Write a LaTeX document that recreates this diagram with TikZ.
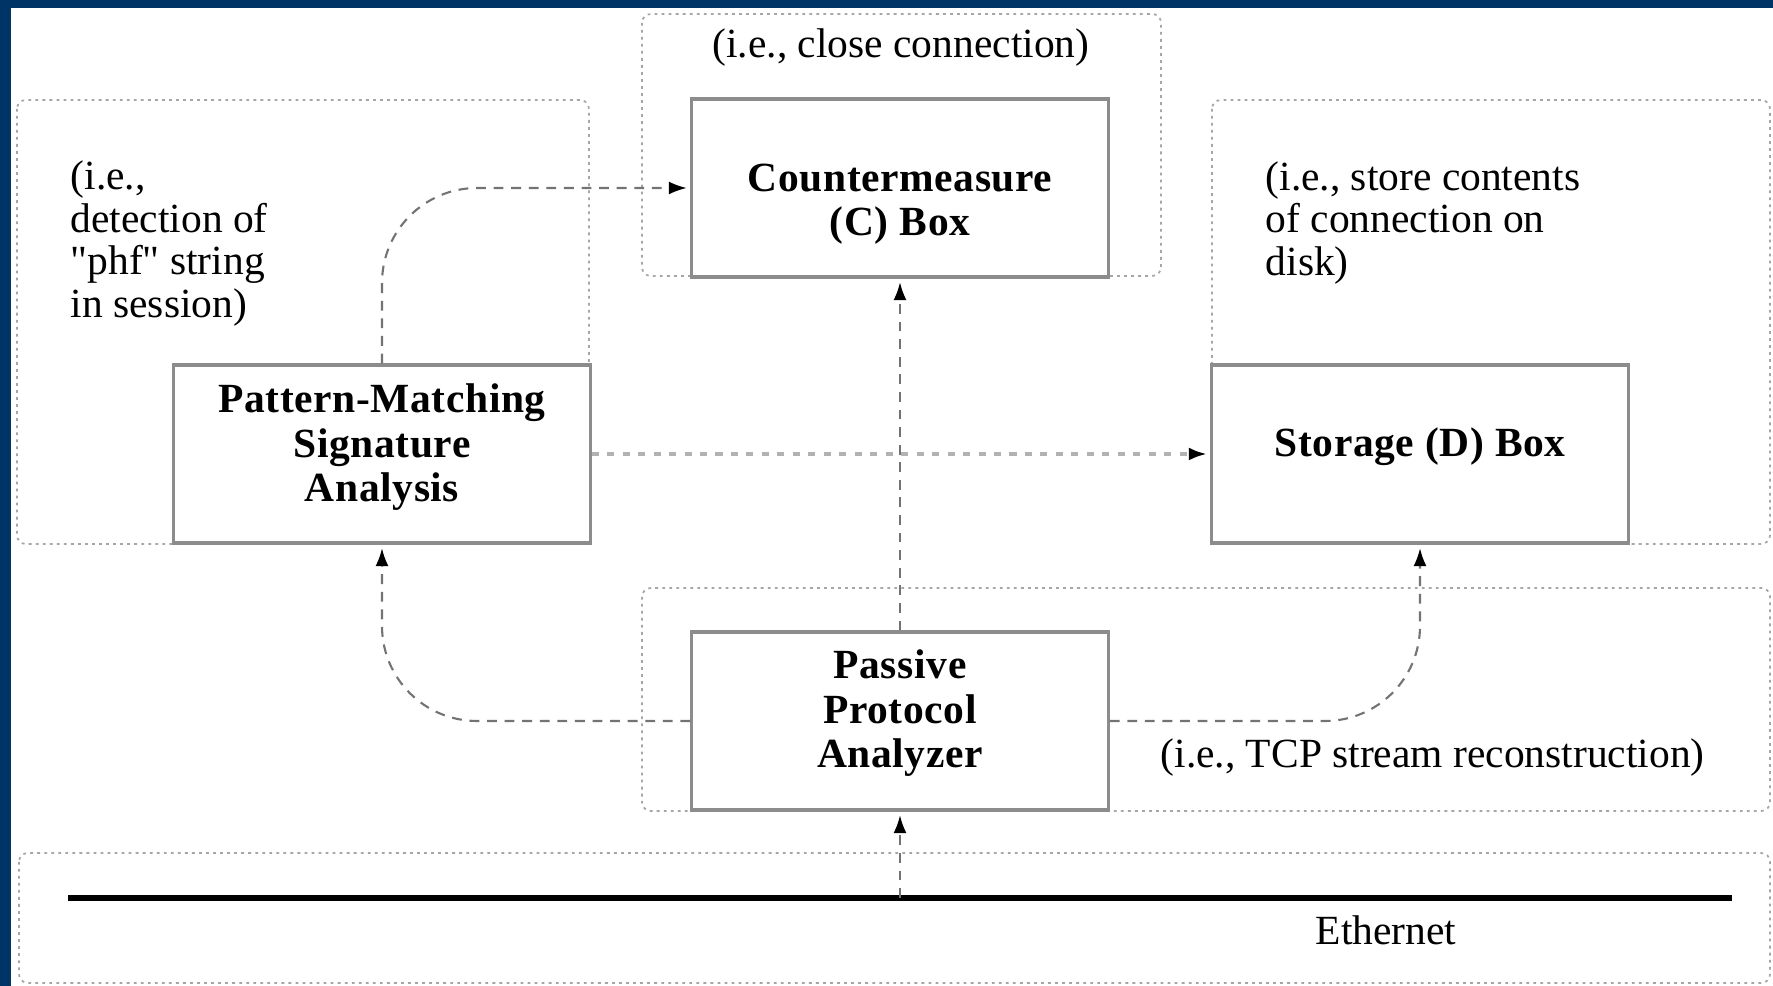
\documentclass[tikz,border=0pt]{standalone}
\usepackage{fontspec}
\setmainfont{Liberation Serif}
\newfontfamily\boxfont{Liberation Serif}[LetterSpace=1.5]
\newfontfamily\plainquote{Liberation Serif}[Ligatures=TeXOff]
\usetikzlibrary{arrows.meta}
\definecolor{framenavy}{RGB}{0,51,102}
\tikzset{
  box/.style={draw=black!45, line width=0.9pt, fill=white, minimum width=4.16cm, minimum height=1.78cm, inner sep=0pt},
  boxtext/.style={font=\boxfont\bfseries\fontsize{11.8}{12.7}\selectfont, align=center},
  note/.style={align=left, anchor=west, inner sep=0pt},
  group/.style={draw=black!35, line width=0.5pt, dash pattern=on 0.8pt off 1.2pt, rounded corners=2.5pt},
  conn/.style={draw=black!55, line width=0.6pt, dash pattern=on 2.8pt off 2.2pt, -{Latex[length=1.8mm,width=1.3mm,color=black]}, shorten >=1pt},
}

\begin{document}
\begin{tikzpicture}[x=0.01cm, y=-0.01cm, font=\fontsize{11.8}{12.2}\selectfont]
  \useasboundingbox (0,0) rectangle (1773,986);
  % frame
  \fill[framenavy] (0,0) rectangle (1773,8);
  \fill[framenavy] (0,0) rectangle (11,986);
  % groups
  \draw[group] (17,100) rectangle (589,544);
  \draw[group] (642,14) rectangle (1161,276);
  \draw[group] (1212,100) rectangle (1770,544);
  \draw[group] (642,588) rectangle (1770,811);
  \draw[group] (19,853) rectangle (1770,983);
  % boxes
  \node[box, label={[boxtext, yshift=1.9pt]center:{Pattern-Matching\\Signature\\Analysis}}] (pm) at (382,454) {};
  \node[box, label={[boxtext, yshift=-4.6pt]center:{Countermeasure\\(C) Box}}] (cm) at (900,188) {};
  \node[box, label={[boxtext, yshift=2pt]center:{Storage (D) Box}}] (ds) at (1420,454) {};
  \node[box, label={[boxtext, yshift=2.2pt]center:{Passive\\Protocol\\Analyzer}}] (pa) at (900,721) {};
  % notes
  \node[note] (pmnote) at (70,243.5) {(i.e.,\\detection of\\{\plainquote"}phf{\plainquote"} string\\in session)};
  \node[note] (dsnote) at (1265,223) {(i.e., store contents\\of connection on\\disk)};
  \node (cmnote) at (901,47.5) {(i.e., close connection)};
  \node[note] (panote) at (1160,757.5) {(i.e., TCP stream reconstruction)};
  \node (ethlabel) at (1386,930) {Ethernet};
  % ethernet
  \coordinate (ethL) at (68,898);
  \coordinate (ethR) at (1732,898);
  \coordinate (ethtap) at (900,898);
  \draw[line width=1.6pt] (ethL) -- (ethR);
  % connectors
  \draw[conn] (ethtap) -- (pa.south);
  \draw[conn] (pa.north) -- (cm.south);
  \draw[conn, rounded corners=0.95cm] (pa.west) -| (pm.south);
  \draw[conn, rounded corners=0.95cm] (pa.east) -| (ds.south);
  \draw[conn, rounded corners=0.95cm] (pm.north) |- (cm.west);
  \draw[conn, draw=black!30, line width=0.9pt, dash pattern=on 2pt off 2.4pt] (pm.east) -- (ds.west);
\end{tikzpicture}
\end{document}
